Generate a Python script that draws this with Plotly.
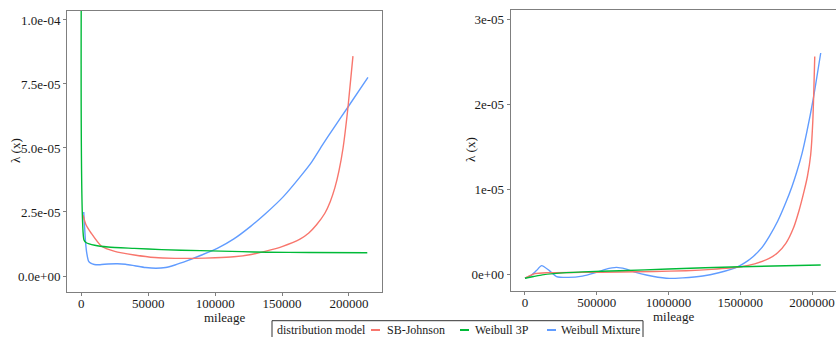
import plotly.graph_objects as go

# ---------------- data ----------------
series_names = ["SB-Johnson", "Weibull 3P", "Weibull Mixture"]

# left panel
red_left_x = [1300, 3500, 7400, 14900, 25000, 39600, 55000, 70000, 85000, 100000,
              114000, 127000, 138700, 150000, 163400, 170000, 175800, 182000,
              186000, 189500, 192500, 195600, 199300, 203000]
red_left_y = [2.38e-5, 2.0e-5, 1.67e-5, 1.17e-5, 9.6e-6, 8.2e-6, 7.2e-6, 6.9e-6,
              6.9e-6, 7.1e-6, 7.5e-6, 8.4e-6, 9.8e-6, 1.15e-5, 1.44e-5, 1.68e-5,
              2.0e-5, 2.45e-5, 2.9e-5, 3.45e-5, 4.1e-5, 5.0e-5, 6.6e-5, 8.59e-5]

green_left_x = [0, 2000, 3700, 10000, 20000, 39600, 60000, 89000, 120000, 138700,
                170000, 213700]
green_left_y = [1.2e-4, 1.41e-5, 1.3e-5, 1.2e-5, 1.13e-5, 1.08e-5, 1.03e-5, 9.9e-6,
                9.5e-6, 9.3e-6, 9.2e-6, 9.1e-6]

blue_left_x = [1800, 3200, 4200, 5400, 7000, 9700, 14000, 20000, 27000, 33000,
               40000, 48000, 55700, 63000, 70000, 79300, 90000, 101600, 114000,
               126300, 138000, 151000, 164700, 172100, 180000, 188200, 199800, 214200]
blue_left_y = [2.5e-5, 1.3e-5, 8.5e-6, 5.8e-6, 5.0e-6, 4.5e-6, 4.4e-6, 4.7e-6,
               4.8e-6, 4.6e-6, 4.0e-6, 3.3e-6, 3.0e-6, 3.3e-6, 4.3e-6, 6.0e-6,
               8.2e-6, 1.08e-5, 1.45e-5, 1.93e-5, 2.45e-5, 3.1e-5, 3.95e-5,
               4.45e-5, 5.1e-5, 5.75e-5, 6.64e-5, 7.76e-5]

# right panel
red_right_x = [0, 35000, 70000, 150000, 400000, 660000, 900000, 1122700, 1300000,
               1504600, 1600000, 1701400, 1760000, 1817100, 1870000, 1909700,
               1945000, 1967600, 1990000, 2005000, 2018500]
red_right_y = [-5e-7, -2e-7, 5e-8, 1.5e-7, 1.9e-7, 2.3e-7, 3.0e-7, 3.9e-7, 5.5e-7,
               8.6e-7, 1.2e-6, 1.84e-6, 2.5e-6, 3.6e-6, 5.4e-6, 7.5e-6, 9.8e-6,
               1.15e-5, 1.4e-5, 1.8e-5, 2.56e-5]

green_right_x = [0, 60000, 120000, 200000, 400000, 660000, 1000000, 1500000, 2060000]
green_right_y = [-5e-7, -3e-7, -1e-7, 5e-8, 2.5e-7, 3.8e-7, 5.8e-7, 8.6e-7, 1.06e-6]

blue_right_x = [0, 40000, 80000, 116000, 170000, 220000, 300000, 400000, 480000,
                560000, 637000, 700000, 760000, 845000, 984000, 1100000, 1238000,
                1350000, 1470000, 1530000, 1586000, 1650000, 1701000, 1760000,
                1817000, 1860000, 1893000, 1930000, 1963000, 2009000, 2060000]
blue_right_y = [-5e-7, -2e-7, 4e-7, 9.8e-7, 4e-7, -3e-7, -4e-7, -2.5e-7, 1e-7,
                5.5e-7, 7.8e-7, 6e-7, 2.5e-7, -1.2e-7, -5e-7, -4.5e-7, -2.4e-7,
                1.5e-7, 7.5e-7, 1.3e-6, 2.0e-6, 3.1e-6, 4.4e-6, 6.2e-6, 8.4e-6,
                1.03e-5, 1.2e-5, 1.42e-5, 1.67e-5, 2.07e-5, 2.6e-5]

# ticks
left_x_ticks = [0, 50000, 100000, 150000, 200000]
left_x_labels = ["0", "50000", "100000", "150000", "200000"]
left_y_ticks = [0, 2.5e-5, 5e-5, 7.5e-5, 1e-4]
left_y_labels = ["0.0e+00", "2.5e-05", "5.0e-05", "7.5e-05", "1.0e-04"]
right_x_ticks = [0, 500000, 1000000, 1500000, 2000000]
right_x_labels = ["0", "500000", "1000000", "1500000", "2000000"]
right_y_ticks = [0, 1e-5, 2e-5, 3e-5]
right_y_labels = ["0e+00", "1e-05", "2e-05", "3e-05"]

x_title = "mileage"
y_title = "λ (x)"
legend_title = "distribution model"

# ---------------- styling ----------------
colors = {"SB-Johnson": "#F8766D", "Weibull 3P": "#00BA38", "Weibull Mixture": "#619CFF"}
FONT = "Liberation Serif, Times New Roman, Times, serif"
TXT = "#1a1a1a"
W, H = 836, 337

fig = go.Figure()

def add(name, x, y, xa, ya):
    fig.add_trace(go.Scatter(
        x=x, y=y, mode="lines", name=name, showlegend=False,
        line=dict(color=colors[name], width=1.4, shape="spline", smoothing=0.6),
        xaxis=xa, yaxis=ya, hoverinfo="skip"))

# draw order: blue, red, green (green on top)
add("Weibull Mixture", blue_left_x, blue_left_y, "x", "y")
add("SB-Johnson", red_left_x, red_left_y, "x", "y")
add("Weibull 3P", green_left_x, green_left_y, "x", "y")
add("Weibull Mixture", blue_right_x, blue_right_y, "x2", "y2")
add("SB-Johnson", red_right_x, red_right_y, "x2", "y2")
add("Weibull 3P", green_right_x, green_right_y, "x2", "y2")

axis_common = dict(
    showgrid=False, zeroline=False, showline=True, mirror=True,
    linecolor="#7f7f7f", linewidth=1, ticks="outside", ticklen=3,
    tickcolor="#7f7f7f", tickfont=dict(family=FONT, size=13, color=TXT),
    tickmode="array",
)

fig.update_layout(
    width=W, height=H,
    margin=dict(l=0, r=0, t=0, b=0, autoexpand=False),
    paper_bgcolor="white", plot_bgcolor="white",
    font=dict(family=FONT, size=13, color=TXT),
    showlegend=False,
    xaxis=dict(axis_common, domain=[67 / W, 382 / W], range=[-10700, 224700],
               tickvals=left_x_ticks, ticktext=left_x_labels, anchor="y",
               ticklabelstandoff=-4),
    yaxis=dict(axis_common, domain=[(H - 292) / H, (H - 11) / H],
               range=[-6.25e-6, 1.035e-4], tickvals=left_y_ticks,
               ticktext=left_y_labels, anchor="x"),
    xaxis2=dict(axis_common, domain=[510.7 / W, 835.5 / W], range=[-99300, 2163000],
                tickvals=right_x_ticks, ticktext=right_x_labels, anchor="y2",
                ticklabelstandoff=-4),
    yaxis2=dict(axis_common, domain=[(H - 291) / H, (H - 10) / H],
                range=[-2e-6, 3.106e-5], tickvals=right_y_ticks,
                ticktext=right_y_labels, anchor="x2"),
)

def px(xp):
    return xp / W

def py(yp):
    return (H - yp) / H

annots = [
    dict(text=x_title, x=px(224.5), y=py(317.5), xanchor="center"),
    dict(text=x_title, x=px(673), y=py(316.5), xanchor="center"),
    dict(text=y_title, x=px(15), y=py(151), xanchor="center", textangle=-90),
    dict(text=y_title, x=px(470), y=py(150), xanchor="center", textangle=-90),
]
for a in annots:
    fig.add_annotation(xref="paper", yref="paper", showarrow=False, yanchor="middle",
                       font=dict(family=FONT, size=13, color=TXT), **a)

# ---- legend (ggplot-style, bottom, horizontal) ----
legend_box = (272, 320.7, 643, 345)
fig.add_shape(type="rect", xref="paper", yref="paper",
              x0=px(legend_box[0]), x1=px(legend_box[2]),
              y0=py(legend_box[3]), y1=py(legend_box[1]),
              line=dict(color="#333333", width=1), fillcolor="white", layer="above")
legend_y = 330
fig.add_annotation(xref="paper", yref="paper", showarrow=False, text=legend_title,
                   x=px(275), y=py(legend_y), xanchor="left", yanchor="middle",
                   font=dict(family=FONT, size=12, color=TXT))
key_pos = {"SB-Johnson": (371, 385), "Weibull 3P": (460, 473), "Weibull Mixture": (547, 559)}
for n in series_names:
    kx, tx = key_pos[n]
    fig.add_shape(type="line", xref="paper", yref="paper",
                  x0=px(kx), x1=px(kx + 9), y0=py(legend_y), y1=py(legend_y),
                  line=dict(color=colors[n], width=2), layer="above")
    fig.add_annotation(xref="paper", yref="paper", showarrow=False, text=n,
                       x=px(tx), y=py(legend_y), xanchor="left", yanchor="middle",
                       font=dict(family=FONT, size=12, color=TXT))

fig.write_html("out.html",
               config={"displayModeBar": False},
               post_script="document.body.style.margin='0';"
                           "document.body.style.overflow='hidden';")
